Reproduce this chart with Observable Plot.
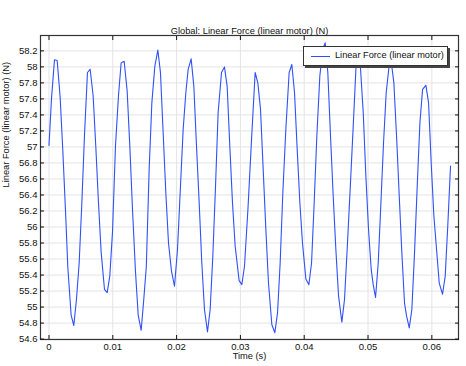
<!DOCTYPE html>
<html><head><meta charset="utf-8">
<script src="https://cdn.jsdelivr.net/npm/d3@7"></script>
<script src="https://cdn.jsdelivr.net/npm/@observablehq/plot@0.6"></script>
<style>
body{margin:0;background:#fff;}
#wrap{position:relative;width:466px;height:366px;font-family:"Liberation Sans",Arial,sans-serif;}
#legend{position:absolute;left:303px;top:46px;width:143px;height:18px;border:1px solid #333;background:#fff;box-shadow:2px 2px 0 #444;font-size:9.2px;color:#111;}
#legend .sw{position:absolute;left:7px;top:9px;width:19px;height:0;border-top:1.2px solid #3050f8;}
#legend .lb{position:absolute;left:31px;top:3px;white-space:nowrap;}
</style></head><body><div id="wrap"></div>
<script>
const title = "Global: Linear Force (linear motor) (N)";
const xLabel = "Time (s)";
const yLabel = "Linear Force (linear motor) (N)";
const seriesName = "Linear Force (linear motor)";
const xTicks = [0, 0.01, 0.02, 0.03, 0.04, 0.05, 0.06];
const yTicks = [54.6, 54.8, 55, 55.2, 55.4, 55.6, 55.8, 56, 56.2, 56.4, 56.6, 56.8, 57, 57.2, 57.4, 57.6, 57.8, 58, 58.2];
const time = [
0, 0.00039, 0.00086, 0.00128, 0.00175, 0.00217, 0.00259, 0.00295, 0.00347, 0.00389,
0.00431, 0.00473, 0.00515, 0.00556, 0.00603, 0.00645, 0.00692, 0.00734, 0.00776, 0.00818,
0.0087, 0.00912, 0.00953, 0.00995, 0.01042, 0.01089, 0.01131, 0.01178, 0.01225, 0.01267,
0.0131, 0.01355, 0.01398, 0.01445, 0.01486, 0.01525, 0.0157, 0.01612, 0.01659, 0.01706,
0.01747, 0.01789, 0.01831, 0.01873, 0.0192, 0.01967, 0.02014, 0.02056, 0.02103, 0.02145,
0.02181, 0.02228, 0.0227, 0.02312, 0.02354, 0.02395, 0.02437, 0.02484, 0.02526, 0.02568,
0.0261, 0.02651, 0.02704, 0.0275, 0.02792, 0.02834, 0.02876, 0.02918, 0.0298, 0.03022,
0.03064, 0.0312, 0.03169, 0.03231, 0.03273, 0.03315, 0.03357, 0.03399, 0.0344, 0.03493,
0.0354, 0.03582, 0.03623, 0.03665, 0.03712, 0.03764, 0.03806, 0.03848, 0.0389, 0.03932,
0.03973, 0.04026, 0.04073, 0.04115, 0.04156, 0.04198, 0.04245, 0.04292, 0.04329, 0.0437,
0.04412, 0.04454, 0.04496, 0.04538, 0.0459, 0.04632, 0.04673, 0.0472, 0.04768, 0.0481,
0.04841, 0.04883, 0.04925, 0.04966, 0.05008, 0.0505, 0.05081, 0.05118, 0.0516, 0.05202,
0.05243, 0.05285, 0.05327, 0.05363, 0.05405, 0.05447, 0.05489, 0.0553, 0.05572, 0.05604,
0.05646, 0.05687, 0.05729, 0.05771, 0.05813, 0.05855, 0.05907, 0.05949, 0.0599, 0.06032,
0.06074, 0.06116, 0.06168, 0.0621, 0.06252, 0.06293
];
const force = [
57.02, 57.6, 58.09, 58.08, 57.62, 56.95, 56.2, 55.5, 54.9, 54.77,
55.1, 55.55, 56.3, 57.14, 57.93, 57.97, 57.64, 57.0, 56.3, 55.68,
55.22, 55.18, 55.39, 55.93, 57.01, 57.64, 58.05, 58.07, 57.7, 57.01,
56.2, 55.45, 54.9, 54.71, 55.1, 55.5, 56.72, 57.55, 58.01, 58.21,
57.93, 57.18, 56.43, 55.8, 55.45, 55.26, 55.72, 56.43, 57.22, 57.68,
57.97, 58.1, 57.76, 57.01, 56.3, 55.55, 54.97, 54.69, 54.97, 55.64,
56.51, 57.43, 57.93, 58.0, 57.76, 57.01, 56.3, 55.76, 55.33, 55.28,
55.51, 56.25, 57.01, 57.93, 57.8, 57.47, 56.72, 55.97, 55.3, 54.78,
54.68, 54.93, 55.55, 56.43, 57.22, 57.93, 58.03, 57.68, 56.97, 56.3,
55.8, 55.35, 55.28, 55.55, 56.3, 57.14, 57.89, 58.22, 58.3, 57.93,
57.14, 56.39, 55.72, 55.14, 54.81, 55.1, 55.72, 56.47, 57.26, 57.97,
58.18, 57.97, 57.43, 56.64, 55.97, 55.47, 55.28, 55.12, 55.55, 56.3,
57.05, 57.68, 57.99, 58.07, 57.8, 57.14, 56.39, 55.68, 55.05, 54.89,
54.74, 54.97, 55.68, 56.51, 57.3, 57.72, 57.77, 57.55, 56.8, 56.14,
55.72, 55.3, 55.16, 55.39, 56.05, 56.76
];

const rows = time.map((t, i) => ({t, f: force[i]}));
const fmt = d => String(+d.toFixed(2));
const tickFont = 9.5;

const chart = Plot.plot({
  width: 466, height: 366,
  marginLeft: 40, marginRight: 8, marginTop: 35, marginBottom: 27,
  style: {fontFamily: '"Liberation Sans", Arial, sans-serif', fontSize: tickFont + "px", color: "#111", background: "#fff"},
  x: {domain: [-0.00133, 0.06418]},
  y: {domain: [54.595, 58.392]},
  marks: [
    Plot.gridX(xTicks, {stroke: "#e4e4e4", strokeOpacity: 1}),
    Plot.gridY(yTicks, {stroke: "#e4e4e4", strokeOpacity: 1}),
    Plot.line(rows, {x: "t", y: "f", stroke: "#3050f8", strokeWidth: 1.1}),
    Plot.frame({stroke: "#333", strokeWidth: 1.2}),
    Plot.axisX(xTicks, {anchor: "bottom", tickSize: 0, tickPadding: 3.5, tickFormat: fmt, label: null, fontSize: tickFont}),
    Plot.axisX(xTicks, {anchor: "bottom", tickSize: -4, tickFormat: () => "", label: null}),
    Plot.axisX(xTicks, {anchor: "top", tickSize: -4, tickFormat: () => "", label: null}),
    Plot.axisY(yTicks, {anchor: "left", tickSize: 0, tickPadding: 3, tickFormat: fmt, label: null, fontSize: tickFont}),
    Plot.axisY(yTicks, {anchor: "left", tickSize: -4, tickFormat: () => "", label: null}),
    Plot.axisY(yTicks, {anchor: "right", tickSize: -4, tickFormat: () => "", label: null}),
    Plot.text([title], {frameAnchor: "top", dy: -8, fontSize: 9.3, fill: "#111"}),
    Plot.text([xLabel], {frameAnchor: "bottom", dy: 19.5, fontSize: 9.3, fill: "#111"}),
    Plot.text([yLabel], {frameAnchor: "left", dx: -34, rotate: -90, fontSize: 9.3, fill: "#111"})
  ]
});
const wrap = document.getElementById("wrap");
wrap.appendChild(chart);
const lg = document.createElement("div");
lg.id = "legend";
lg.innerHTML = '<div class="sw"></div><div class="lb"></div>';
lg.querySelector(".lb").textContent = seriesName;
wrap.appendChild(lg);
</script></body></html>
